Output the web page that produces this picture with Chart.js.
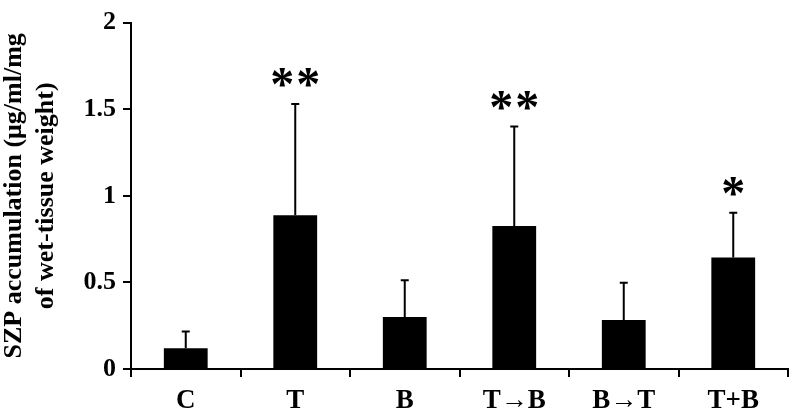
<!DOCTYPE html>
<html>
<head>
<meta charset="utf-8">
<script src="https://cdn.jsdelivr.net/npm/chart.js@4"></script>
<style>
  html, body { margin: 0; padding: 0; background: #fff; }
  #wrap { width: 792px; height: 413px; }
</style>
</head>
<body>
<div id="wrap"><canvas id="chart" width="792" height="413"></canvas></div>
<script>
const groups = ['C', 'T', 'B', 'T\u2192B', 'B\u2192T', 'T+B'];
const means = [0.12, 0.887, 0.30, 0.825, 0.283, 0.644];
const errors = [0.097, 0.643, 0.213, 0.575, 0.215, 0.258];
const marks = ['', '**', '', '**', '', '*'];
const yTicks = [0, 0.5, 1, 1.5, 2];

const serif = "'Liberation Serif', 'Times New Roman', serif";

// error bars (upper only) + significance stars
const errorBars = {
  id: 'errorBars',
  afterDatasetsDraw(chart) {
    const ctx = chart.ctx;
    const meta = chart.getDatasetMeta(0);
    const y = chart.scales.y;
    ctx.save();
    ctx.strokeStyle = '#000';
    ctx.lineWidth = 2;
    meta.data.forEach((bar, i) => {
      const top = y.getPixelForValue(means[i] + errors[i]);
      ctx.beginPath();
      ctx.moveTo(bar.x, bar.y);
      ctx.lineTo(bar.x, top);
      ctx.moveTo(bar.x - 4, top);
      ctx.lineTo(bar.x + 4, top);
      ctx.stroke();

      const n = marks[i].length;
      if (!n) return;
      ctx.fillStyle = '#000';
      ctx.font = 'bold 48px ' + serif;
      ctx.textAlign = 'center';
      ctx.textBaseline = 'alphabetic';
      for (let k = 0; k < n; k++) {
        const sx = bar.x + (k - (n - 1) / 2) * 26;
        ctx.fillText('*', sx, top - 4);
      }
    });
    ctx.restore();
  }
};

new Chart(document.getElementById('chart').getContext('2d'), {
  type: 'bar',
  data: {
    labels: groups,
    datasets: [{
      data: means,
      backgroundColor: '#000',
      borderWidth: 0,
      categoryPercentage: 1,
      barPercentage: 0.4
    }]
  },
  options: {
    responsive: false,
    animation: false,
    layout: { padding: { top: 12, right: 4, left: 0, bottom: 0 } },
    plugins: {
      legend: { display: false },
      tooltip: { enabled: false }
    },
    scales: {
      x: {
        grid: {
          display: true,
          drawOnChartArea: false,
          drawTicks: true,
          tickLength: 8,
          color: '#000',
          lineWidth: 2
        },
        border: { display: true, color: '#000', width: 2 },
        ticks: {
          color: '#000',
          padding: 8,
          font: { family: serif, size: 27, weight: 'bold' }
        },
        afterFit: s => { s.height = 44; }
      },
      y: {
        min: 0,
        max: 2,
        afterBuildTicks: s => { s.ticks = yTicks.map(v => ({ value: v })); },
        grid: {
          display: true,
          drawOnChartArea: false,
          drawTicks: true,
          tickLength: 8,
          color: '#000',
          lineWidth: 2
        },
        border: { display: true, color: '#000', width: 2 },
        ticks: {
          color: '#000',
          padding: 7,
          font: { family: serif, size: 26, weight: 'bold' },
          callback: v => String(v)
        },
        title: {
          display: true,
          text: ['SZP accumulation (\u03bcg/ml/mg', 'of wet-tissue weight)'],
          color: '#000',
          padding: { top: -2, bottom: 0 },
          font: { family: serif, size: 26, weight: 'bold', lineHeight: 1.24 }
        },
        afterFit: s => { s.width = 131; }
      }
    }
  },
  plugins: [errorBars]
});
</script>
</body>
</html>
